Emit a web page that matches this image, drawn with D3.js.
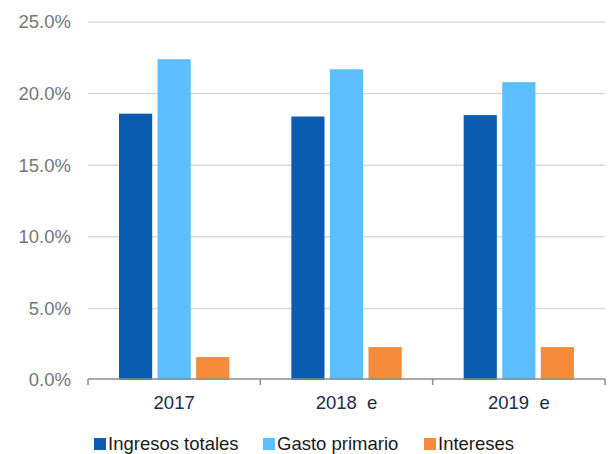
<!DOCTYPE html>
<html>
<head>
<meta charset="utf-8">
<script src="https://cdn.jsdelivr.net/npm/d3@7"></script>
<style>
  body { margin: 0; background: #fff; }
  text { font-family: "Liberation Sans", Arial, sans-serif; }
</style>
</head>
<body>
<div id="chart"></div>
<script>
let width = 608,
  height = 454

// data
let years = ['2017', '2018  e', '2019  e']
let series = ['Ingresos totales', 'Gasto primario', 'Intereses']
let ingresos = [18.6, 18.4, 18.5]
let gasto = [22.4, 21.7, 20.8]
let intereses = [1.6, 2.3, 2.3]
let yTicks = [0, 5, 10, 15, 20, 25]
let colors = ['#0B5DB2', '#5BBEFF', '#F68B3C']

let values = [ingresos, gasto, intereses]

let svg = d3.select('#chart')
  .append('svg')
  .attr('width', width)
  .attr('height', height)

let x = d3.scaleBand()
  .domain(years)
  .range([88, 605])

let xInner = d3.scaleBand()
  .domain(series)
  .range([31, x.bandwidth() - 31])
  .paddingInner(0.14)

let y = d3.scaleLinear()
  .domain([0, 25])
  .range([380, 22])

// gridlines
svg.append('g')
  .selectAll('line')
  .data(yTicks.filter(d => d > 0))
  .enter().append('line')
  .attr('x1', 88)
  .attr('x2', 605)
  .attr('y1', d => y(d))
  .attr('y2', d => y(d))
  .attr('stroke', '#d9d9d9')
  .attr('stroke-width', 1.5)

// y labels
svg.append('g')
  .selectAll('text')
  .data(yTicks)
  .enter().append('text')
  .attr('x', 71)
  .attr('y', d => y(d))
  .attr('dy', '0.35em')
  .attr('text-anchor', 'end')
  .attr('font-size', '18.5px')
  .attr('fill', '#767676')
  .text(d => d.toFixed(1) + '%')

// bars
let groups = svg.append('g')
  .selectAll('g')
  .data(years)
  .enter().append('g')
  .attr('transform', d => `translate(${x(d)},0)`)

groups.selectAll('rect')
  .data((d, i) => series.map((s, j) => ({s: s, v: values[j][i], c: colors[j]})))
  .enter().append('rect')
  .attr('x', d => xInner(d.s))
  .attr('width', xInner.bandwidth())
  .attr('y', d => y(d.v))
  .attr('height', d => y(0) - y(d.v))
  .attr('fill', d => d.c)

// x axis
let xAxis = svg.append('g')
  .attr('transform', 'translate(0,379)')
xAxis.append('line')
  .attr('x1', 88).attr('x2', 605)
  .attr('stroke', '#8c8c8c').attr('stroke-width', 1.5)
xAxis.selectAll('.tick')
  .data(x.domain().map(d => x(d)).concat([x.range()[1]]))
  .enter().append('line')
  .attr('x1', d => d).attr('x2', d => d)
  .attr('y1', 0).attr('y2', 6)
  .attr('stroke', '#8c8c8c').attr('stroke-width', 1.5)
xAxis.selectAll('text')
  .data(years)
  .enter().append('text')
  .attr('x', d => x(d) + x.bandwidth() / 2)
  .attr('y', 30)
  .attr('text-anchor', 'middle')
  .attr('font-size', '18.5px')
  .attr('fill', '#1c2b4a')
  .style('white-space', 'pre')
  .text(d => d)

// legend
let legendX = [94, 263, 424]
let legend = svg.append('g')
  .selectAll('g')
  .data(series)
  .enter().append('g')
  .attr('transform', (d, i) => `translate(${legendX[i]},438)`)
legend.append('rect')
  .attr('width', 12)
  .attr('height', 12)
  .attr('fill', (d, i) => colors[i])
legend.append('text')
  .attr('x', 14)
  .attr('y', 6)
  .attr('dy', '0.35em')
  .attr('font-size', '18.5px')
  .attr('fill', '#1a1a1a')
  .text(d => d)
</script>
</body>
</html>
